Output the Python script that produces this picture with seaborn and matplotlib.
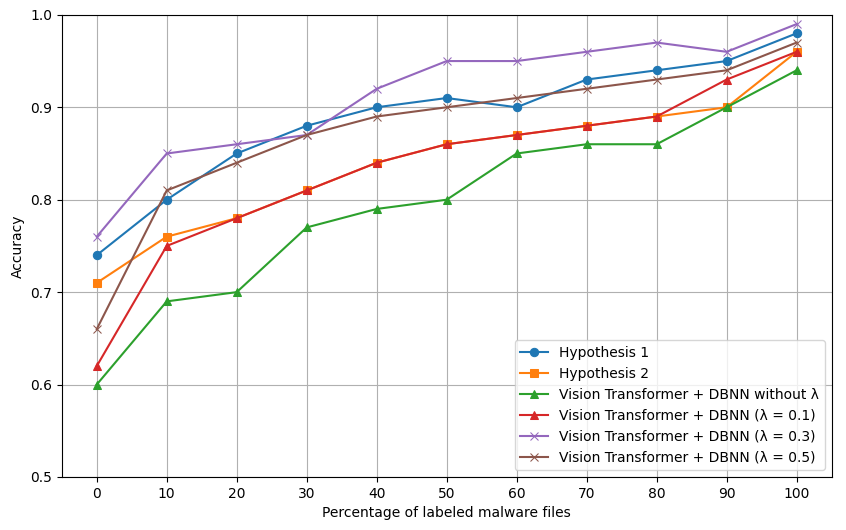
import numpy as np
import pandas as pd
import seaborn as sns
import matplotlib.pyplot as plt

percent = [0, 10, 20, 30, 40, 50, 60, 70, 80, 90, 100]

hyp1 = [0.74, 0.80, 0.85, 0.88, 0.90, 0.91, 0.90, 0.93, 0.94, 0.95, 0.98]
hyp2 = [0.71, 0.76, 0.78, 0.81, 0.84, 0.86, 0.87, 0.88, 0.89, 0.90, 0.96]
vit_no_lambda = [0.60, 0.69, 0.70, 0.77, 0.79, 0.80, 0.85, 0.86, 0.86, 0.90, 0.94]
vit_l01 = [0.62, 0.75, 0.78, 0.81, 0.84, 0.86, 0.87, 0.88, 0.89, 0.93, 0.96]
vit_l03 = [0.76, 0.85, 0.86, 0.87, 0.92, 0.95, 0.95, 0.96, 0.97, 0.96, 0.99]
vit_l05 = [0.66, 0.81, 0.84, 0.87, 0.89, 0.90, 0.91, 0.92, 0.93, 0.94, 0.97]

series = [
    ('Hypothesis 1', hyp1, 'o', '#1f77b4'),
    ('Hypothesis 2', hyp2, 's', '#ff7f0e'),
    ('Vision Transformer + DBNN without λ', vit_no_lambda, '^', '#2ca02c'),
    ('Vision Transformer + DBNN (λ = 0.1)', vit_l01, '^', '#d62728'),
    ('Vision Transformer + DBNN (λ = 0.3)', vit_l03, 'x', '#9467bd'),
    ('Vision Transformer + DBNN (λ = 0.5)', vit_l05, 'x', '#8c564b'),
]

fig, ax = plt.subplots(figsize=(8.46, 5.3), dpi=100)

for name, vals, mk, col in series:
    df = pd.DataFrame({'pct': percent, 'acc': vals})
    sns.lineplot(data=df, x='pct', y='acc', marker=mk, color=col, label=name,
                 markersize=6, markeredgecolor=col, linewidth=1.5, ax=ax)

ax.set_xlabel('Percentage of labeled malware files')
ax.set_ylabel('Accuracy')
ax.set_ylim(0.5, 1.0)
ax.set_xticks(percent)
ax.set_xlim(-5, 105)
ax.grid(True)
ax.legend(loc='lower right')

plt.subplots_adjust(left=0.073, right=0.983, top=0.972, bottom=0.1)
plt.savefig('out.png', dpi=100)
